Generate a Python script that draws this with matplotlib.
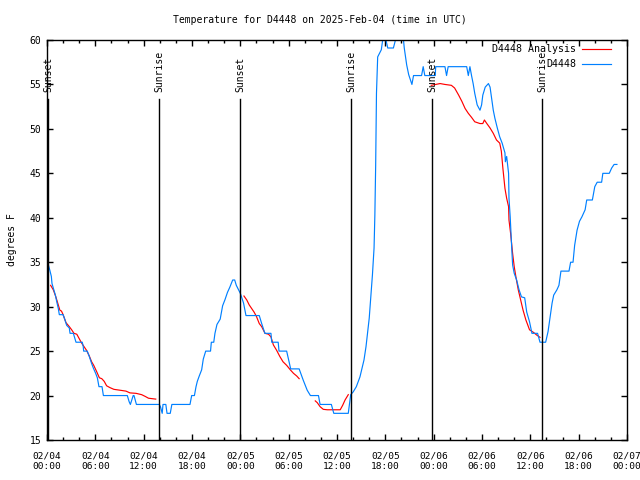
import numpy as np
import matplotlib
matplotlib.use("Agg")
from matplotlib import pyplot as plt

plt.rcParams['font.family'] = ['DejaVu Sans Mono']
plt.rcParams['font.size'] = 7

# hours since 2025-02-04 00:00 UTC
obs_hours = [0, 0.17, 0.35, 0.54, 0.62, 0.78, 1.04, 1.2, 1.4, 1.53, 2.0, 2.23, 2.44, 2.77, 2.86, 3.27,
             3.47, 3.6, 4.38, 4.5, 4.55, 5.0, 5.25, 5.54, 5.75, 6.04, 6.25, 6.45, 6.83, 7.0, 9.97, 10.2,
             10.35, 10.7, 10.8, 11.1, 13.94, 14.1, 14.3, 14.4, 14.75, 14.9, 15.3, 15.5, 17.75, 17.96,
             18.3, 18.5, 18.66, 18.9, 19.2, 19.4, 19.7, 20.3, 20.4, 20.7, 20.85, 21.1, 21.5, 21.8, 22.1,
             22.4, 22.7, 23.05, 23.3, 23.5, 24.0, 24.4, 24.7, 26.35, 26.65, 27.05, 27.8, 27.9, 28.7,
             28.8, 29.75, 30.0, 30.25, 31.3, 31.8, 32.3, 32.7, 33.7, 33.9, 35.3, 35.6, 37.4, 37.7, 38.0,
             38.4, 38.85, 39.35, 39.6, 40.0, 40.4, 40.6, 40.7, 40.8, 40.9, 41.05, 41.5, 41.75, 41.95,
             42.3, 43.0, 43.4, 44.2, 44.35, 44.65, 44.9, 45.3, 45.5, 46.5, 46.7, 46.9, 48.2, 48.25, 49.4,
             49.6, 49.8, 52.1, 52.3, 52.5, 52.7, 52.9, 53.1, 53.4, 53.75, 53.95, 54.1, 54.4, 54.8, 55.0,
             55.2, 55.4, 55.6, 55.9, 56.2, 56.5, 56.85, 56.9, 57.06, 57.3, 57.35, 57.5, 57.6, 57.7, 57.8,
             58.0, 58.3, 58.6, 58.9, 59.3, 59.55, 59.9, 60.2, 60.9, 61.2, 61.9, 62.2, 62.4, 62.7, 62.9,
             63.3, 63.55, 63.8, 64.8, 65.0, 65.3, 65.5, 65.8, 66.1, 66.4, 66.8, 67.0, 67.7, 68.0, 68.3,
             68.85, 69.0, 69.8, 70.1, 70.4, 70.75]
obs_temps = [35.0, 34.7, 34.1, 33.4, 32.6, 32.1, 31.3, 30.6, 29.8, 29.1, 29.1, 28.5, 27.9, 27.6, 27.0, 27.0,
             26.4, 26.0, 26.0, 25.5, 25.0, 25.0, 24.4, 23.6, 23.1, 22.5, 22.0, 21.0, 21.0, 20.0, 20.0, 19.3,
             19.0, 20.0, 20.0, 19.0, 19.0, 18.7, 18.0, 19.0, 19.0, 18.0, 18.0, 19.0, 19.0, 20.0,
             20.0, 21.0, 21.6, 22.2, 22.9, 24.1, 25.0, 25.0, 26.0, 26.0, 27.0, 28.0, 28.6, 30.1, 30.8,
             31.6, 32.2, 33.0, 33.0, 32.4, 31.5, 30.4, 29.0, 29.0, 28.1, 27.0, 27.0, 26.0, 26.0,
             25.0, 25.0, 24.0, 23.0, 23.0, 21.75, 20.6, 20.0, 20.0, 19.0, 19.0, 18.0, 18.0, 20.1, 20.4,
             21.0, 22.1, 24.0, 25.5, 28.7, 33.6, 36.6, 40.3, 45.9, 54.0, 58.1, 58.9, 60.5, 60.5,
             59.1, 59.1, 60.5, 60.5, 59.1, 57.2, 56.1, 55.0, 56.0, 56.0, 57.0, 56.0, 56.0, 57.0, 57.0,
             56.0, 57.0, 57.0, 56.0, 57.0, 56.0, 55.1, 54.0, 52.7, 52.1, 52.7, 53.8, 54.7, 55.1, 54.7,
             53.4, 52.1, 51.2, 50.1, 49.1, 48.4, 47.3, 46.3, 46.9, 45.0, 42.2, 40.1, 38.2, 36.4, 34.7,
             33.75, 33.0, 31.9, 31.1, 31.0, 29.4, 28.3, 27.0, 27.0, 26.0, 26.0, 27.2, 28.5, 30.4, 31.3,
             31.9, 32.4, 34.0, 34.0, 35.0, 35.0, 36.9, 38.6, 39.6, 40.1, 40.9, 42.0, 42.0, 43.5, 44.0,
             44.0, 45.0, 45.0, 45.6, 46.0, 46.0]

# analysis (None = gap)
ana_hours = [0.45, 0.78, 1.1, 1.4, 1.6, 1.8, 2.0, 2.36, 2.77, 3.06, 3.35, 3.7, 4.0, 4.3, 4.6, 4.9, 5.25,
             5.54, 5.8, 6.16, 6.5, 6.8, 7.1, 7.4, 7.8, 8.3, 9.06, 9.8, 10.3, 11.05, 11.75, 12.2, 12.6, 13.5,
             None,
             24.45, 24.8, 25.1, 25.4, 25.7, 26.0, 26.35, 26.65, 27.06, 27.5, 27.8, 28.1, 28.5, 28.9, 29.3,
             29.75, 30.2, 30.6, 31.0, 31.3,
             None,
             33.3, 33.55, 33.9, 34.3, 34.8, 36.4, 36.7, 37.0, 37.4,
             None,
             47.7, 48.8, 49.4, 50.2, 50.6, 51.1, 51.5, 51.9, 52.3, 52.7, 53.1, 53.75, 54.1, 54.3, 54.6,
             55.0, 55.4, 55.8, 56.2, 56.4, 56.6, 56.85, 57.06, 57.3, 57.35, 57.55, 57.8, 58.0, 58.2, 58.5,
             58.8, 59.1, 59.45, 59.9, 60.4, 60.8, 61.2]
ana_temps = [32.4, 31.9, 31.1, 30.2, 29.6, 29.5, 29.1, 28.2, 27.75, 27.4, 27.0, 26.9, 26.4, 25.9, 25.5,
             25.1, 24.45, 23.8, 23.4, 22.7, 22.0, 21.9, 21.6, 21.1, 20.9, 20.7, 20.6, 20.5, 20.3, 20.25,
             20.1, 19.9, 19.7, 19.6,
             None,
             31.2, 30.75, 30.2, 29.8, 29.4, 28.9, 28.1, 27.75, 27.0, 26.9, 26.6, 25.7, 25.1, 24.4, 23.8,
             23.4, 22.9, 22.5, 22.2, 21.9,
             None,
             19.4, 19.2, 18.75, 18.45, 18.4, 18.4, 18.9, 19.5, 20.1,
             None,
             54.9, 55.1, 55.0, 54.9, 54.6, 53.8, 53.1, 52.3, 51.75, 51.3, 50.8, 50.6, 50.6, 51.0, 50.6,
             50.1, 49.5, 48.75, 48.4, 47.5, 45.5, 43.3, 42.2, 41.25, 39.75, 38.25, 36.0, 34.5, 33.4, 31.9,
             30.75, 29.6, 28.5, 27.4, 27.1, 26.8, 26.55]

sun_hours = [0.15, 13.9, 24.0, 37.8, 47.8, 61.5]
sun_labels = ['Sunset', 'Sunrise', 'Sunset', 'Sunrise', 'Sunset', 'Sunrise']

tick_hours = list(range(0, 73, 6))
tick_labels = ['02/04\n00:00', '02/04\n06:00', '02/04\n12:00', '02/04\n18:00',
               '02/05\n00:00', '02/05\n06:00', '02/05\n12:00', '02/05\n18:00',
               '02/06\n00:00', '02/06\n06:00', '02/06\n12:00', '02/06\n18:00',
               '02/07\n00:00']

fig = plt.figure(figsize=(6.4, 4.8), dpi=100)
ax = fig.add_axes([47/640, 40/480, 580/640, 400/480])

ah = np.array([np.nan if v is None else v for v in ana_hours], dtype=float)
at = np.array([np.nan if v is None else v for v in ana_temps], dtype=float)
ax.plot(ah, at, color='#ff0000', lw=0.85, label='D4448 Analysis')
ax.plot(obs_hours, obs_temps, color='#0080ff', lw=0.85, label='D4448')

for h, lab in zip(sun_hours, sun_labels):
    ax.plot([h, h], [15, 53.4], color='black', lw=1.0)
    ax.text(h, 54.1, lab, rotation=90, ha='center', va='bottom', fontsize=7)

ax.set_xlim(0, 72)
ax.set_ylim(15, 60)
ax.set_xticks(tick_hours)
ax.set_xticklabels(tick_labels, linespacing=1.25, fontsize=6.8)
ax.set_xticks(np.arange(0, 73, 2), minor=True)
ax.set_yticks(np.arange(15, 61, 5))
ax.tick_params(which='major', direction='in', length=4, width=1, top=True, right=True)
ax.tick_params(which='minor', direction='in', length=2.2, width=1, top=True, right=True)
ax.tick_params(axis='x', pad=8)
ax.tick_params(axis='y', pad=4)
for s in ax.spines.values():
    s.set_linewidth(1.0)

leg = ax.legend(loc='upper right', frameon=False, markerfirst=False, handlelength=2.9,
                fontsize=7.2, borderaxespad=0.05, labelspacing=0.5, handletextpad=0.6,
                bbox_to_anchor=(0.98, 1.0))

fig.text(0.5, 1 - 20/480, 'Temperature for D4448 on 2025-Feb-04 (time in UTC)',
         ha='center', va='center', fontsize=7)
fig.text(12/640, 0.5, 'degrees F', rotation=90, ha='center', va='center', fontsize=7)

fig.savefig('out.png', dpi=100)
